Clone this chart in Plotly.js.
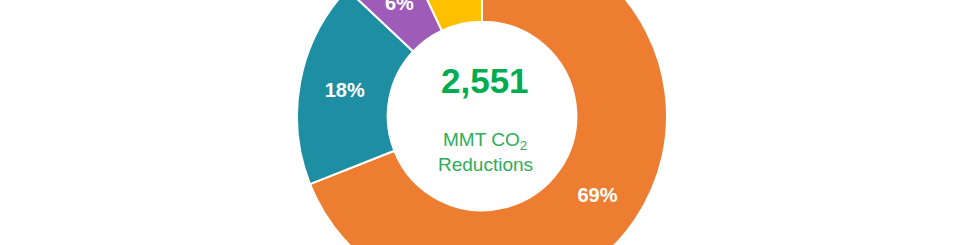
<!DOCTYPE html>
<html>
<head>
<meta charset="utf-8">
<script src="https://cdn.plot.ly/plotly-3.0.1.min.js"></script>
<style>
html,body{margin:0;padding:0;width:960px;height:245px;overflow:hidden;background:#fff;}
#chart{position:absolute;left:0;top:-134px;width:960px;height:500px;}
</style>
</head>
<body>
<div id="chart"></div>
<script>
const categories = ["Orange segment", "Teal segment", "Purple segment", "Yellow segment"];
const shares = [69, 18, 6, 7];
const sliceColors = ["#ED7D31", "#1E8FA2", "#9E5BB8", "#FFC000"];
const totalLabel = "2,551";
const unitLabel = "MMT CO<sub>2</sub>";
const unitLabel2 = "Reductions";

const W = 960, H = 500;
const offsetTop = 134;
const cx = 482, cy = 250, R = 185, hole = 0.51;
const FONT = "Liberation Sans, Arial, sans-serif";

// slices whose label Plotly would push toward the rim are labelled at mid-ring instead
const midRing = [false, false, true, false];
const total = shares.reduce((a, b) => a + b, 0);
let cum = 0;
const sliceAnnotations = [];
shares.forEach((v, i) => {
  const midFrac = (cum + v / 2) / total;
  cum += v;
  if (!midRing[i]) return;
  const ang = midFrac * 2 * Math.PI;          // clockwise from 12 o'clock
  const r = R * (1 + hole) / 2;
  sliceAnnotations.push({
    text: "<b>" + v + "%</b>", xref: "paper", yref: "paper",
    x: (cx + r * Math.sin(ang)) / W, y: 1 - (cy - r * Math.cos(ang)) / H,
    showarrow: false, xanchor: "center", yanchor: "middle",
    font: {family: FONT, size: 20, color: "#ffffff"}
  });
});

const trace = {
  type: "pie",
  labels: categories,
  values: shares,
  text: shares.map(v => v + "%"),
  textinfo: "text",
  textposition: midRing.map(m => m ? "none" : "inside"),
  insidetextorientation: "horizontal",
  hole: hole,
  sort: false,
  direction: "clockwise",
  rotation: 0,
  marker: {colors: sliceColors, line: {color: "#ffffff", width: 2}},
  textfont: {family: FONT, size: 20, color: "#ffffff", weight: "bold"},
  domain: {x: [(cx - R) / W, (cx + R) / W], y: [1 - (cy + R) / H, 1 - (cy - R) / H]},
  showlegend: false,
  hoverinfo: "none"
};

const layout = {
  width: W, height: H,
  margin: {l: 0, r: 0, t: 0, b: 0},
  paper_bgcolor: "#ffffff",
  showlegend: false,
  annotations: sliceAnnotations.concat([
    {text: "<b>" + totalLabel + "</b>", x: 485 / W, y: 1 - (80.5 + offsetTop) / H, xref: "paper", yref: "paper",
     showarrow: false, xanchor: "center", yanchor: "middle",
     font: {family: FONT, size: 35, color: "#00AC50"}},
    {text: unitLabel, x: 485 / W, y: 1 - (141 + offsetTop) / H, xref: "paper", yref: "paper",
     showarrow: false, xanchor: "center", yanchor: "middle",
     font: {family: FONT, size: 19, color: "#2EAD5A"}},
    {text: unitLabel2, x: 485 / W, y: 1 - (164 + offsetTop) / H, xref: "paper", yref: "paper",
     showarrow: false, xanchor: "center", yanchor: "middle",
     font: {family: FONT, size: 19, color: "#2EAD5A"}}
  ])
};

Plotly.newPlot("chart", [trace], layout, {displayModeBar: false, staticPlot: true});
</script>
</body>
</html>
